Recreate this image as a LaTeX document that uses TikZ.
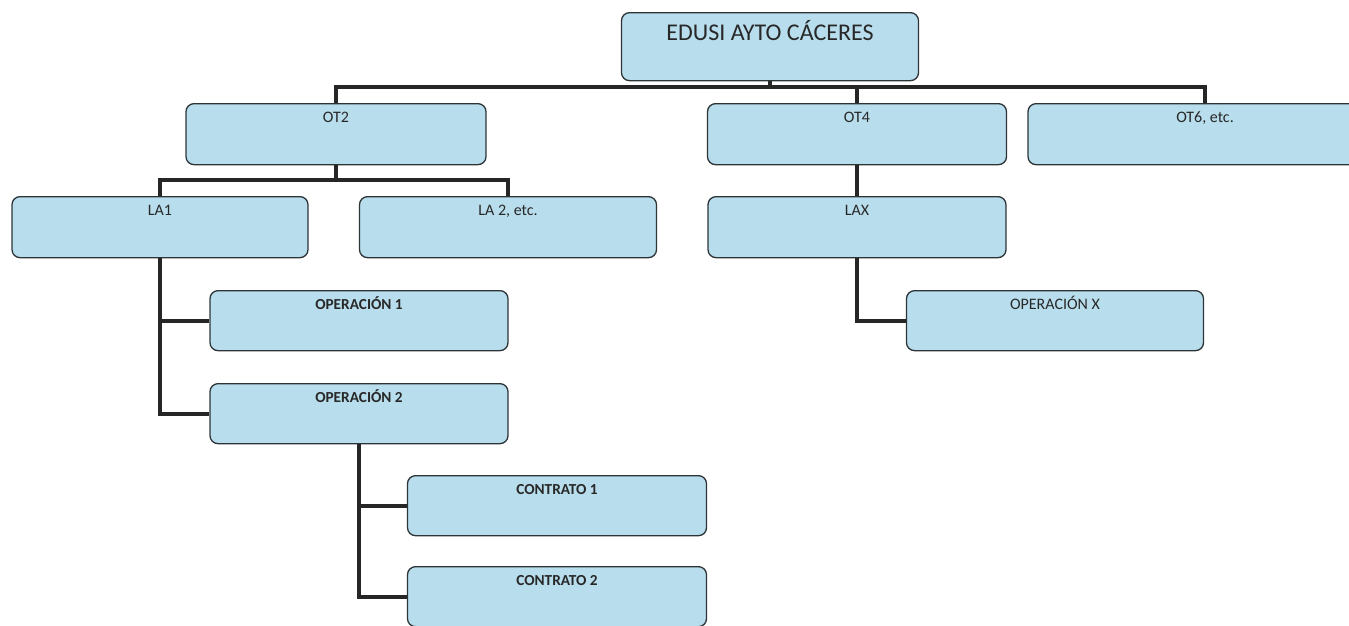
\documentclass[tikz,border=0pt]{standalone}
\usepackage{fontspec}
\setmainfont{Carlito}
\usetikzlibrary{positioning}

\definecolor{boxblue}{RGB}{184,221,236}
\definecolor{boxline}{RGB}{45,52,56}
\definecolor{linkgray}{RGB}{38,38,38}
\definecolor{labelgray}{RGB}{40,40,40}

\begin{document}
\begin{tikzpicture}[
        x=1pt, y=-1pt,
        box/.style={rectangle, rounded corners=8pt, draw=boxline, line width=1.3pt, fill=boxblue,
            minimum width=298pt, inner xsep=0pt, inner ysep=7pt, text height=12pt, text depth=35pt,
            anchor=north, text=labelgray, font=\fontsize{16}{18}\selectfont},
        topbox/.style={box, text height=21pt, text depth=33pt, font=\fontsize{24}{28}\selectfont},
        opbox/.style={box, text depth=34pt, font=\fontsize{15.3}{17}\selectfont\bfseries},
        link/.style={draw=linkgray, line width=4pt}
    ]
    \useasboundingbox (0,0) rectangle (1349,625);
    \clip (0,0) rectangle (1349,625);
    % top level
    \node[topbox, minimum width=297pt] (edusi) at (770,12) {EDUSI AYTO CÁCERES};
    % objetivos tematicos
    \node[box, minimum width=300pt] (ot2) at (336,103) {OT2};
    \node[box, minimum width=299pt] (ot4) at (857,103) {OT4};
    \node[box, minimum width=354pt] (ot6) at (1205,103) {OT6, etc.};
    % lineas de actuacion
    \node[box, minimum width=296pt] (la1) at (160,196) {LA1};
    \node[box, minimum width=297pt] (la2) at (508,196) {LA 2, etc.};
    \node[box, below=30.7pt of ot4] (lax) {LAX};
    % operaciones
    \node[opbox] (op1) at (359,290) {OPERACIÓN 1};
    \node[opbox, below=31.7pt of op1] (op2) {OPERACIÓN 2};
    \node[box, text depth=34pt, minimum width=297pt] (opx) at (1055,290) {OPERACIÓN X};
    % contratos
    \node[opbox, minimum width=299pt] (con1) at (557,475) {CONTRATO 1};
    \node[opbox, minimum width=299pt, below=29.7pt of con1] (con2) {CONTRATO 2};
    % buses
    \coordinate (bus1) at (0,87);
    \coordinate (bus2) at (0,180);
    % connections
    \draw[link] (edusi.south) -- (edusi.south |- bus1);
    \draw[link] (ot2.north) -- (ot2.north |- bus1) -- (ot6.north |- bus1) -- (ot6.north);
    \draw[link] (ot4.north) -- (ot4.north |- bus1);
    \draw[link] (ot2.south) -- (ot2.south |- bus2);
    \draw[link] (la1.north) -- (la1.north |- bus2) -- (la2.north |- bus2) -- (la2.north);
    \draw[link] (ot4.south) -- (lax.north);
    \draw[link] (lax.south) |- (opx.west);
    \draw[link] (la1.south) |- (op1.west);
    \draw[link] (la1.south) |- (op2.west);
    \draw[link] (op2.south) |- (con1.west);
    \draw[link] (op2.south) |- (con2.west);
\end{tikzpicture}
\end{document}
